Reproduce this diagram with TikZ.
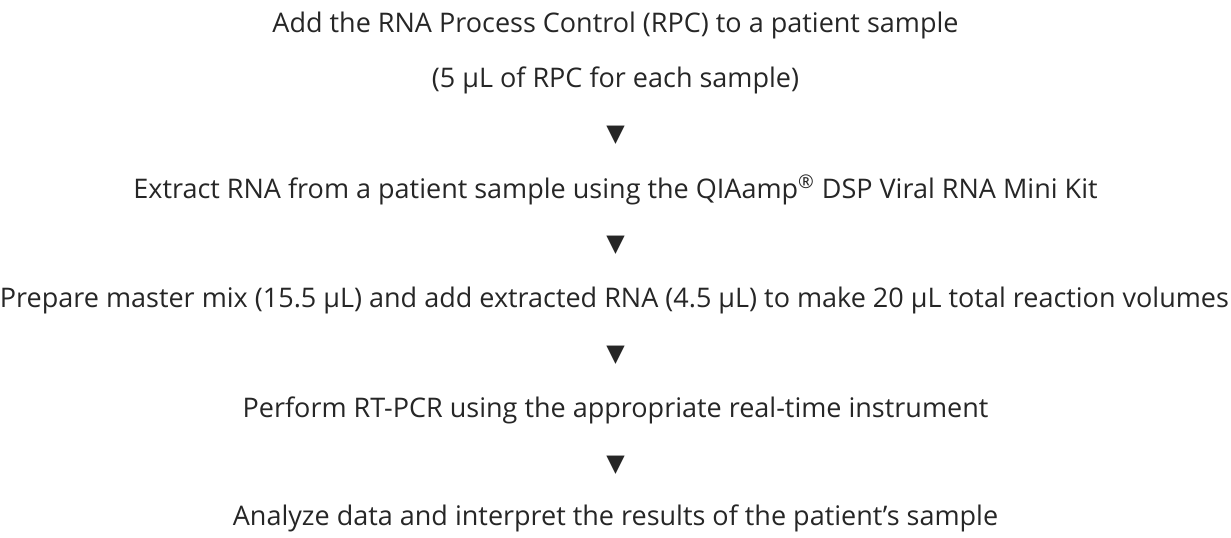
\documentclass[tikz,border=0pt]{standalone}
\usepackage{fontspec}
\setmainfont{Open Sans}
\newfontfamily\symfont{DejaVu Sans}
\begin{document}
\begin{tikzpicture}[x=0.5pt,y=-0.5pt,
  steptext/.style={inner sep=0pt,font=\fontsize{13.5}{16}\selectfont,text=black!85},
  tri/.style={inner sep=0pt,font=\symfont\fontsize{12}{14}\selectfont,text=black!85}]
\useasboundingbox (0,0) rectangle (1231,537);
\node[steptext] (s1) at (615.5,25) {Add the RNA Process Control (RPC) to a patient sample};
\node[steptext] (s1b) at (615.5,80) {(5 µL of RPC for each sample)};
\node[tri] (t1) at (615.5,135) {▼};
\node[steptext] (s2) at (615.5,190) {Extract RNA from a patient sample using the QIAamp\textsuperscript{®} DSP Viral RNA Mini Kit};
\node[tri] (t2) at (615.5,245) {▼};
\node[steptext] (s3) at (614.5,300) {Prepare master mix (15.5 µL) and add extracted RNA (4.5 µL) to make 20 µL total reaction volumes};
\node[tri] (t3) at (615.5,355) {▼};
\node[steptext] (s4) at (615.5,410) {Perform RT-PCR using the appropriate real-time instrument};
\node[tri] (t4) at (615.5,465) {▼};
\node[steptext] (s5) at (615.5,518) {Analyze data and interpret the results of the patient’s sample};
\end{tikzpicture}
\end{document}
